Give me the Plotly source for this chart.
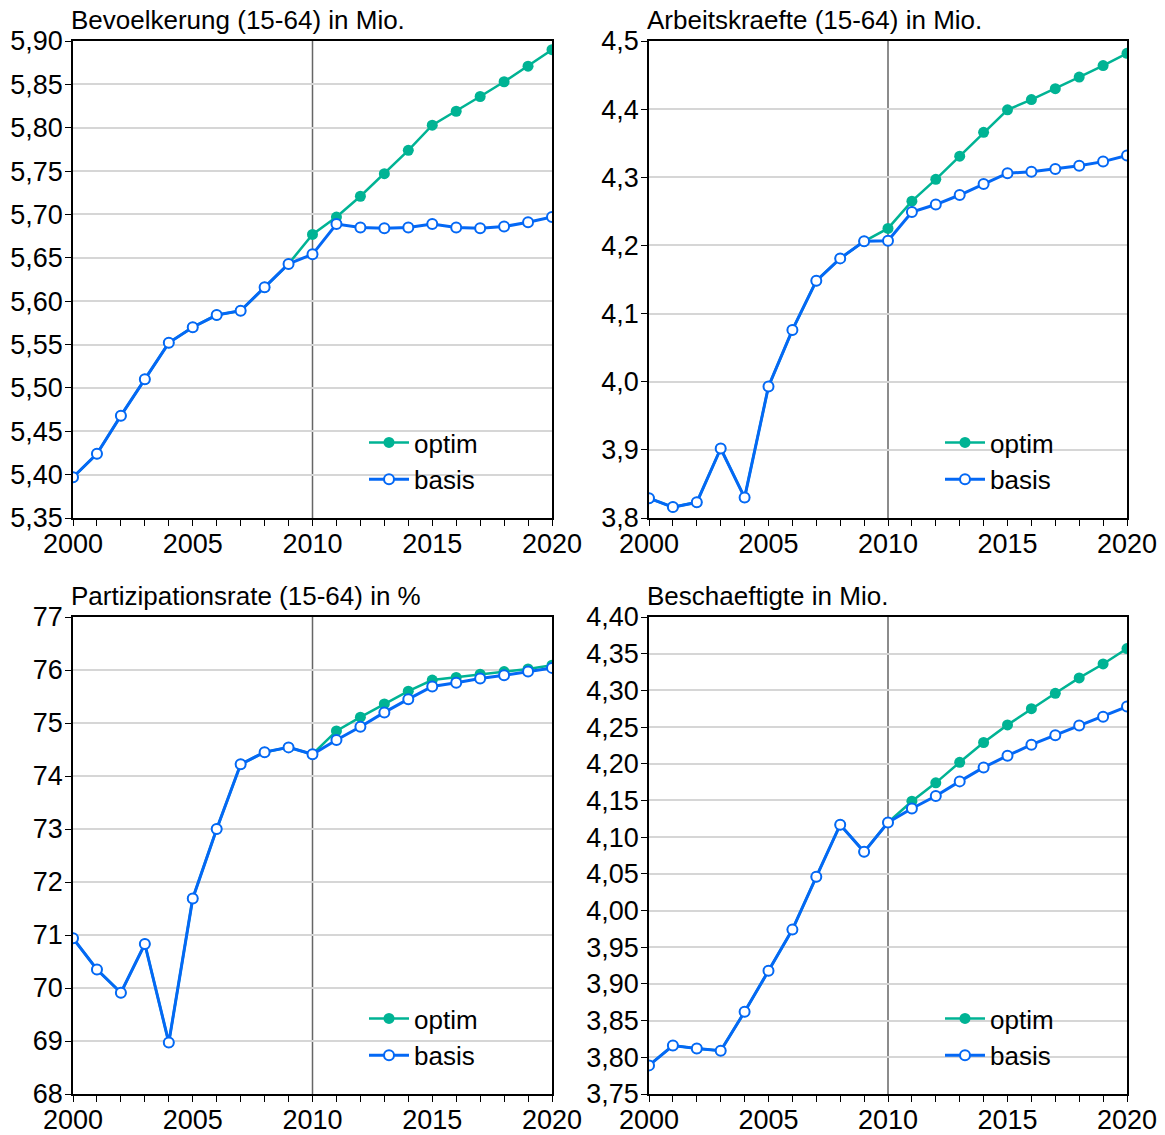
import plotly.graph_objects as go

# --- data -----------------------------------------------------------------
years = list(range(2000, 2021))
proj_years = list(range(2010, 2021))

bev_basis = [5.397, 5.424, 5.468, 5.510, 5.552, 5.570, 5.584, 5.589, 5.616, 5.643,
             5.654, 5.689, 5.685, 5.684, 5.685, 5.689, 5.685, 5.684, 5.686, 5.691, 5.697]
bev_optim = [5.677, 5.697, 5.721, 5.747, 5.774, 5.803, 5.819, 5.836, 5.853, 5.871, 5.890]

ak_basis = [3.829, 3.816, 3.823, 3.902, 3.830, 3.993, 4.076, 4.148, 4.181, 4.206,
            4.207, 4.249, 4.260, 4.274, 4.290, 4.306, 4.308, 4.312, 4.317, 4.323, 4.332]
ak_optim = [4.225, 4.265, 4.297, 4.331, 4.366, 4.399, 4.414, 4.430, 4.447, 4.464, 4.482]

pr_basis = [70.94, 70.35, 69.91, 70.83, 68.97, 71.69, 73.00, 74.22, 74.45, 74.54,
            74.41, 74.68, 74.93, 75.20, 75.45, 75.69, 75.76, 75.84, 75.90, 75.97, 76.04]
pr_optim = [74.41, 74.85, 75.11, 75.36, 75.60, 75.81, 75.86, 75.92, 75.97, 76.02, 76.09]

be_basis = [3.789, 3.816, 3.812, 3.809, 3.862, 3.918, 3.974, 4.046, 4.117, 4.080,
            4.120, 4.139, 4.156, 4.176, 4.195, 4.211, 4.226, 4.239, 4.252, 4.264, 4.278]
be_optim = [4.120, 4.149, 4.174, 4.202, 4.229, 4.253, 4.275, 4.296, 4.317, 4.336, 4.357]

titles = ["Bevoelkerung (15-64) in Mio.", "Arbeitskraefte (15-64) in Mio.",
          "Partizipationsrate (15-64) in %", "Beschaeftigte in Mio."]
y_ranges = [(5.35, 5.90), (3.8, 4.5), (68, 77), (3.75, 4.40)]
y_dticks = [0.05, 0.1, 1, 0.05]
y_formats = [".2f", ".1f", "d", ".2f"]
x_labels = [str(y) if y % 5 == 0 else "" for y in years]

panels = [(bev_basis, bev_optim), (ak_basis, ak_optim),
          (pr_basis, pr_optim), (be_basis, be_optim)]

# --- layout geometry (pixels) -----------------------------------------------
W, H = 1165, 1135
col_px = [(73, 552), (649, 1127)]
row_px = [(41, 518), (617, 1094)]

GREEN = "#00b394"
BLUE = "#0468f5"
FONT = "Liberation Sans, Arial, sans-serif"
TICK_SIZE = 27
TEXT_SIZE = 26

fig = go.Figure()

for i, (basis, optim) in enumerate(panels):
    r, c = divmod(i, 2)
    n = i + 1
    xa = "x" if n == 1 else f"x{n}"
    ya = "y" if n == 1 else f"y{n}"
    lg = "legend" if n == 1 else f"legend{n}"

    # optimistic path follows the base path until 2010, then diverges
    optim_full = basis[:years.index(2010)] + optim
    fig.add_trace(go.Scatter(
        x=years, y=optim_full, name="optim", mode="lines+markers",
        xaxis=xa, yaxis=ya, legend=lg,
        line=dict(color=GREEN, width=2.5),
        marker=dict(color=GREEN, size=11, symbol="circle"),
    ))
    fig.add_trace(go.Scatter(
        x=years, y=basis, name="basis", mode="lines+markers",
        xaxis=xa, yaxis=ya, legend=lg,
        line=dict(color=BLUE, width=3),
        marker=dict(color="white", size=10, symbol="circle",
                    line=dict(color=BLUE, width=2)),
    ))

    x0, x1 = col_px[c]
    y0, y1 = row_px[r]
    xdom = [x0 / W, x1 / W]
    ydom = [1 - y1 / H, 1 - y0 / H]

    lo, hi = y_ranges[i]
    fig.update_layout({
        ("xaxis" if n == 1 else f"xaxis{n}"): dict(
            domain=xdom, anchor=ya, range=[2000, 2020],
            tickmode="array", tickvals=years, ticktext=x_labels,
            ticks="outside", ticklen=6, tickwidth=1.2, tickcolor="black",
            ticklabelstandoff=-5,
            showgrid=False, zeroline=False, automargin=False,
            showline=True, linecolor="black", linewidth=1.5, mirror=True,
            tickfont=dict(size=TICK_SIZE, color="black", family=FONT),
        ),
        ("yaxis" if n == 1 else f"yaxis{n}"): dict(
            domain=ydom, anchor=xa, range=[lo, hi],
            tick0=lo, dtick=y_dticks[i], tickformat=y_formats[i],
            ticks="outside", ticklen=6, tickwidth=1.2, tickcolor="black",
            ticklabelstandoff=-3,
            showgrid=True, gridcolor="#d6d6d6", gridwidth=1.5, zeroline=False,
            automargin=False,
            showline=True, linecolor="black", linewidth=1.5, mirror=True,
            tickfont=dict(size=TICK_SIZE, color="black", family=FONT),
        ),
        lg: dict(
            x=(x0 + 291) / W, y=1 - (y1 - 99) / H,
            xanchor="left", yanchor="top",
            bgcolor="rgba(0,0,0,0)", borderwidth=0,
            font=dict(size=TEXT_SIZE, color="black", family=FONT),
            itemwidth=40, tracegroupgap=0,
        ),
    })

    # reference year marker
    fig.add_shape(type="line", xref=xa, yref=f"{ya} domain",
                  x0=2010, x1=2010, y0=0, y1=1, layer="below",
                  line=dict(color="#666666", width=1.5))

    fig.add_annotation(text=titles[i], xref="paper", yref="paper",
                       x=(x0 - 4) / W, y=1 - (y0 - 21) / H,
                       xanchor="left", yanchor="middle", showarrow=False,
                       font=dict(size=TEXT_SIZE, color="black", family=FONT))

fig.update_layout(
    width=W, height=H,
    margin=dict(l=0, r=0, t=0, b=0, autoexpand=False),
    paper_bgcolor="white", plot_bgcolor="white",
    separators=",.",
    font=dict(family=FONT, color="black"),
)

fig.write_html("out.html")
